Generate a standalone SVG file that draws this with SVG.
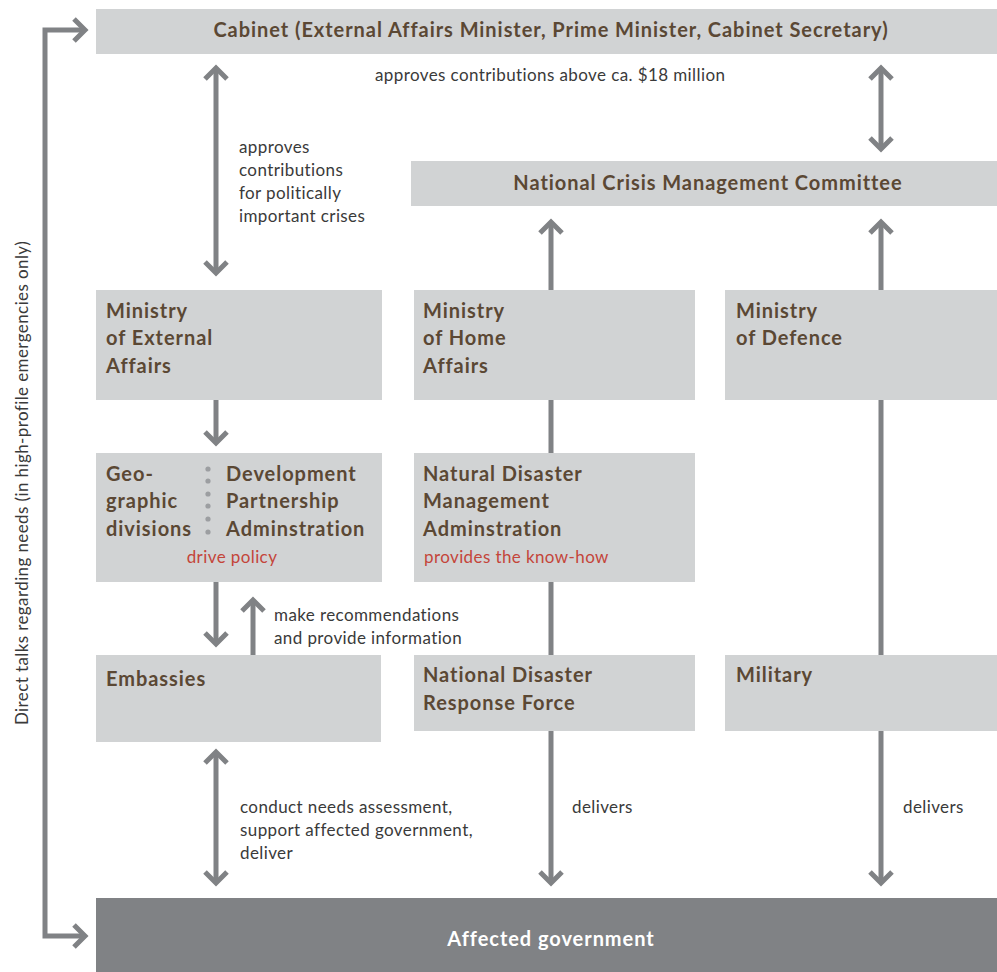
<svg xmlns="http://www.w3.org/2000/svg" width="997" height="972" viewBox="0 0 997 972">
<defs>
<style>
.box{fill:#d1d3d4}
.dark{fill:#808285}
.b{font-family:Lato,"Liberation Sans",sans-serif;font-weight:bold;font-size:20px;fill:#5b4834;letter-spacing:0.95px}
.w{fill:#ffffff}
.r{font-family:Lato,"Liberation Sans",sans-serif;font-size:17px;fill:#3a3a3a;letter-spacing:0.4px}
.red{font-family:Lato,"Liberation Sans",sans-serif;font-size:17px;fill:#c4453a;letter-spacing:0.4px}
.c{fill:none;stroke:#808285;stroke-width:5}
.dot{fill:#9c9ea1}
</style>
<marker id="ah" markerUnits="userSpaceOnUse" viewBox="-16 -16 22 32" refX="0" refY="0" markerWidth="22" markerHeight="32" orient="auto-start-reverse">
<path d="M -11 -11 L 0 0 L -11 11" fill="none" stroke="#808285" stroke-width="5"/>
</marker>
</defs>
<rect width="997" height="972" fill="#ffffff"/>
<g id="connectors">
<path class="c" d="M 85 30 L 45 30 L 45 936 L 85 936" marker-start="url(#ah)" marker-end="url(#ah)"/>
<line class="c" x1="216" y1="68" x2="216" y2="273" marker-start="url(#ah)" marker-end="url(#ah)"/>
<line class="c" x1="881" y1="68" x2="881" y2="149" marker-start="url(#ah)" marker-end="url(#ah)"/>
<line class="c" x1="551" y1="655" x2="551" y2="222" marker-end="url(#ah)"/>
<line class="c" x1="881" y1="655" x2="881" y2="222" marker-end="url(#ah)"/>
<line class="c" x1="216" y1="400" x2="216" y2="443" marker-end="url(#ah)"/>
<line class="c" x1="216" y1="582" x2="216" y2="644" marker-end="url(#ah)"/>
<line class="c" x1="253" y1="655" x2="253" y2="600" marker-end="url(#ah)"/>
<line class="c" x1="216" y1="752" x2="216" y2="883" marker-start="url(#ah)" marker-end="url(#ah)"/>
<line class="c" x1="551" y1="731" x2="551" y2="883" marker-end="url(#ah)"/>
<line class="c" x1="881" y1="731" x2="881" y2="883" marker-end="url(#ah)"/>
<text class="r" x="28" y="483" text-anchor="middle" transform="rotate(-90 28 483)">Direct talks regarding needs (in high-profile emergencies only)</text>
<text class="r" x="375" y="81">approves contributions above ca. $18 million</text>
<text class="r" x="239" y="153">approves</text>
<text class="r" x="239" y="176">contributions</text>
<text class="r" x="239" y="199">for politically</text>
<text class="r" x="239" y="222">important crises</text>
<text class="r" x="274" y="621">make recommendations</text>
<text class="r" x="274" y="644">and provide information</text>
<text class="r" x="240" y="813">conduct needs assessment,</text>
<text class="r" x="240" y="836">support affected government,</text>
<text class="r" x="240" y="859">deliver</text>
<text class="r" x="572" y="813">delivers</text>
<text class="r" x="903" y="813">delivers</text>
</g>
<g id="cabinet">
<rect class="box" x="96" y="9" width="901" height="45"/>
<text class="b" x="551" y="37" text-anchor="middle">Cabinet (External Affairs Minister, Prime Minister, Cabinet Secretary)</text>
</g>
<g id="ncmc">
<rect class="box" x="411" y="161" width="586" height="45"/>
<text class="b" x="708" y="190" text-anchor="middle">National Crisis Management Committee</text>
</g>
<g id="mea">
<rect class="box" x="96" y="290" width="286" height="110"/>
<text class="b" x="106" y="318">Ministry</text>
<text class="b" x="106" y="345">of External</text>
<text class="b" x="106" y="373">Affairs</text>
</g>
<g id="mha">
<rect class="box" x="414" y="290" width="281" height="110"/>
<text class="b" x="423" y="318">Ministry</text>
<text class="b" x="423" y="345">of Home</text>
<text class="b" x="423" y="373">Affairs</text>
</g>
<g id="mod">
<rect class="box" x="725" y="290" width="272" height="110"/>
<text class="b" x="736" y="318">Ministry</text>
<text class="b" x="736" y="345">of Defence</text>
</g>
<g id="geo-dpa">
<rect class="box" x="96" y="453" width="286" height="129"/>
<text class="b" x="106" y="481">Geo-</text>
<text class="b" x="106" y="508">graphic</text>
<text class="b" x="106" y="536">divisions</text>
<circle class="dot" cx="208" cy="469" r="2.6"/>
<circle class="dot" cx="208" cy="481" r="2.6"/>
<circle class="dot" cx="208" cy="494" r="2.6"/>
<circle class="dot" cx="208" cy="506" r="2.6"/>
<circle class="dot" cx="208" cy="519" r="2.6"/>
<circle class="dot" cx="208" cy="532" r="2.6"/>
<text class="b" x="226" y="481">Development</text>
<text class="b" x="226" y="508">Partnership</text>
<text class="b" x="226" y="536">Adminstration</text>
<text class="red" x="232" y="563" text-anchor="middle">drive policy</text>
</g>
<g id="ndma">
<rect class="box" x="414" y="453" width="281" height="129"/>
<text class="b" x="423" y="481">Natural Disaster</text>
<text class="b" x="423" y="508">Management</text>
<text class="b" x="423" y="536">Adminstration</text>
<text class="red" x="424" y="563">provides the know-how</text>
</g>
<g id="embassies">
<rect class="box" x="96" y="655" width="285" height="87"/>
<text class="b" x="106" y="686">Embassies</text>
</g>
<g id="ndrf">
<rect class="box" x="414" y="655" width="281" height="76"/>
<text class="b" x="423" y="682">National Disaster</text>
<text class="b" x="423" y="710">Response Force</text>
</g>
<g id="military">
<rect class="box" x="725" y="655" width="272" height="76"/>
<text class="b" x="736" y="682">Military</text>
</g>
<g id="affected">
<rect class="dark" x="96" y="898" width="901" height="74"/>
<text class="b w" x="551" y="946" text-anchor="middle">Affected government</text>
</g>
</svg>
